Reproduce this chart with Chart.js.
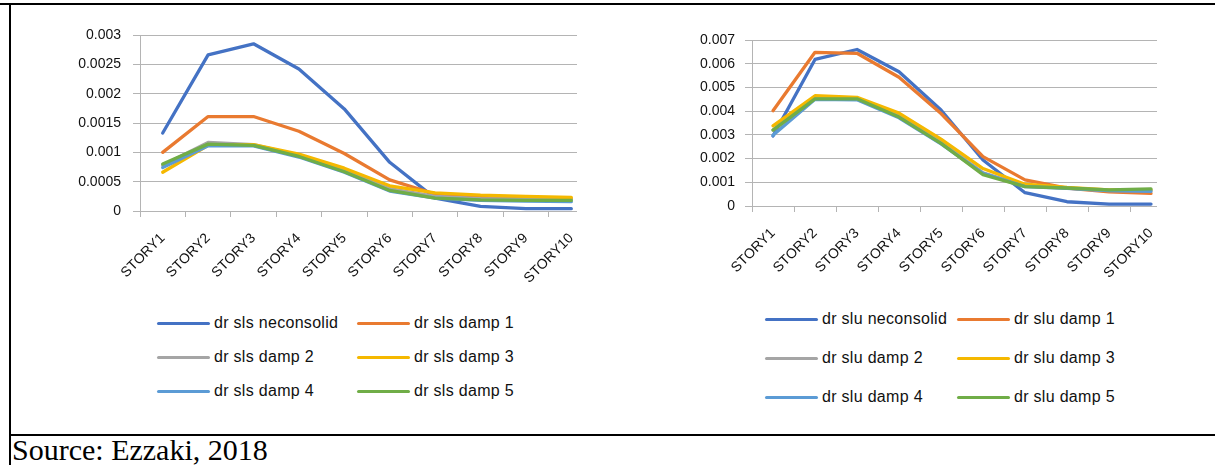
<!DOCTYPE html>
<html>
<head>
<meta charset="utf-8">
<script src="https://cdn.jsdelivr.net/npm/chart.js@4.4.0/dist/chart.umd.min.js"></script>
<style>
  html, body { margin: 0; padding: 0; background: #fff; }
  body { width: 1215px; height: 465px; position: relative; overflow: hidden;
         font-family: "Liberation Sans", Arial, sans-serif; }
  .rule { position: absolute; background: #000; }
  .clip { position: absolute; overflow: hidden; }
  .clip canvas { position: absolute; left: 0; top: 0; }
  .item { position: absolute; height: 20px; display: flex; align-items: center;
          white-space: nowrap; font-size: 16px; letter-spacing: 0.3px; color: #111; }
  .swatch { display: inline-block; width: 53px; height: 3px; border-radius: 1.5px; margin-right: 4px; }
  .source { position: absolute; left: 12px; top: 435px; line-height: 30px;
            font-family: "Liberation Serif", "Times New Roman", serif; font-size: 30px; color: #000; }
</style>
</head>
<body>
  <div class="rule" style="left:0;top:3px;width:1215px;height:2px"></div>
  <div class="rule" style="left:9px;top:3px;width:2px;height:462px"></div>
  <div class="rule" style="left:9px;top:434px;width:1206px;height:2px"></div>

  <div class="clip" style="left:50px;top:20px;width:527px;height:280px">
    <canvas id="sls" width="548" height="280"></canvas>
  </div>
  <div class="clip" style="left:660px;top:20px;width:497px;height:280px">
    <canvas id="slu" width="516" height="280"></canvas>
  </div>
  <div id="legends"></div>
  <div class="source">Source: Ezzaki, 2018</div>

<script>
// Storeys along the category axis
const stories = ['STORY1', 'STORY2', 'STORY3', 'STORY4', 'STORY5',
                 'STORY6', 'STORY7', 'STORY8', 'STORY9', 'STORY10'];

// Serviceability limit state drifts
const slsNames = ['dr sls neconsolid', 'dr sls damp 1', 'dr sls damp 2',
                  'dr sls damp 3', 'dr sls damp 4', 'dr sls damp 5'];
const slsNeconsolid = [0.00133, 0.00266, 0.00285, 0.00242, 0.00174, 0.00083, 0.00022, 0.00008, 0.00004, 0.00004];
const slsDamp1 = [0.00100, 0.00161, 0.00161, 0.00136, 0.00098, 0.00053, 0.00029, 0.00024, 0.00022, 0.00021];
const slsDamp2 = [0.00078, 0.00117, 0.00113, 0.00095, 0.00070, 0.00038, 0.00025, 0.00021, 0.00020, 0.00020];
const slsDamp3 = [0.00066, 0.00112, 0.00113, 0.00097, 0.00073, 0.00043, 0.00031, 0.00027, 0.00025, 0.00023];
const slsDamp4 = [0.00074, 0.00111, 0.00111, 0.00092, 0.00066, 0.00034, 0.00022, 0.00018, 0.00017, 0.00016];
const slsDamp5 = [0.00080, 0.00114, 0.00112, 0.00093, 0.00067, 0.00035, 0.00022, 0.00019, 0.00018, 0.00018];
const slsTicks = [0, 0.0005, 0.001, 0.0015, 0.002, 0.0025, 0.003];

// Ultimate limit state drifts
const sluNames = ['dr slu neconsolid', 'dr slu damp 1', 'dr slu damp 2',
                  'dr slu damp 3', 'dr slu damp 4', 'dr slu damp 5'];
const sluNeconsolid = [0.00295, 0.00618, 0.00660, 0.00566, 0.00405, 0.00194, 0.00056, 0.00018, 0.00008, 0.00008];
const sluDamp1 = [0.00402, 0.00648, 0.00644, 0.00543, 0.00390, 0.00208, 0.00110, 0.00075, 0.00060, 0.00053];
const sluDamp2 = [0.00320, 0.00460, 0.00450, 0.00380, 0.00270, 0.00140, 0.00085, 0.00075, 0.00065, 0.00065];
const sluDamp3 = [0.00338, 0.00465, 0.00458, 0.00392, 0.00282, 0.00158, 0.00092, 0.00078, 0.00068, 0.00068];
const sluDamp4 = [0.00298, 0.00450, 0.00448, 0.00372, 0.00262, 0.00138, 0.00082, 0.00074, 0.00065, 0.00062];
const sluDamp5 = [0.00320, 0.00452, 0.00452, 0.00375, 0.00264, 0.00132, 0.00082, 0.00076, 0.00068, 0.00072];
const sluTicks = [0, 0.001, 0.002, 0.003, 0.004, 0.005, 0.006, 0.007];

const colors = ['#4472C4', '#E97A30', '#A5A5A5', '#F5B800', '#5B9BD5', '#70AD47'];
const yFont = { family: '"Liberation Sans", Arial, sans-serif', size: 14 };
const xFont = { family: '"Liberation Sans", Arial, sans-serif', size: 14 };
const textColor = '#111';
const gridColor = '#B4B4B4';

function drawChart(id, series, names, ticks, axisWidth, axisHeight, padTop, padRight, labelPad) {
  return new Chart(document.getElementById(id), {
    type: 'line',
    data: {
      labels: stories,
      datasets: series.map((values, i) => ({
        label: names[i],
        data: values,
        borderColor: colors[i],
        backgroundColor: colors[i],
        borderWidth: 3.3,
        borderJoinStyle: 'round',
        borderCapStyle: 'round',
        pointRadius: 0,
        tension: 0,
        fill: false,
        order: series.length - i
      }))
    },
    options: {
      responsive: false,
      animation: false,
      devicePixelRatio: 1,
      layout: { padding: { top: padTop, right: padRight, left: 0, bottom: 0 } },
      plugins: { legend: { display: false }, tooltip: { enabled: false } },
      scales: {
        x: {
          offset: true,
          grid: { offset: true, drawOnChartArea: false, drawTicks: true, tickLength: 6, color: gridColor },
          border: { display: true, color: gridColor },
          ticks: { minRotation: 45, maxRotation: 45, autoSkip: false, font: xFont, color: textColor, padding: 13 },
          afterFit(scale) {
            scale.height = axisHeight;
            scale.paddingLeft = 0;
            scale.paddingRight = 0;
          }
        },
        y: {
          min: 0,
          max: ticks[ticks.length - 1],
          afterBuildTicks(scale) { scale.ticks = ticks.map(v => ({ value: v })); },
          grid: { color: gridColor, drawTicks: true, tickLength: 7 },
          border: { display: true, color: gridColor },
          ticks: { callback: v => String(v), font: yFont, color: textColor, padding: labelPad },
          afterFit(scale) {
            scale.width = axisWidth;
            scale.paddingTop = 0;
            scale.paddingBottom = 0;
          }
        }
      }
    }
  });
}

drawChart('sls', [slsNeconsolid, slsDamp1, slsDamp2, slsDamp3, slsDamp4, slsDamp5],
          slsNames, slsTicks, 90, 89, 15, 4, 12);
drawChart('slu', [sluNeconsolid, sluDamp1, sluDamp2, sluDamp3, sluDamp4, sluDamp5],
          sluNames, sluTicks, 92, 94, 20, 4, 10);

// Two-column legends under each chart
function buildLegend(names, cols, rows) {
  const host = document.getElementById('legends');
  names.forEach((name, i) => {
    const el = document.createElement('div');
    el.className = 'item';
    el.style.left = cols[i % 2] + 'px';
    el.style.top = (rows[Math.floor(i / 2)] - 10) + 'px';
    const sw = document.createElement('span');
    sw.className = 'swatch';
    sw.style.background = colors[i];
    el.appendChild(sw);
    el.appendChild(document.createTextNode(name));
    host.appendChild(el);
  });
}
buildLegend(slsNames, [157, 357], [323, 357, 391]);
buildLegend(sluNames, [765, 957], [319, 358, 397]);
</script>
</body>
</html>
